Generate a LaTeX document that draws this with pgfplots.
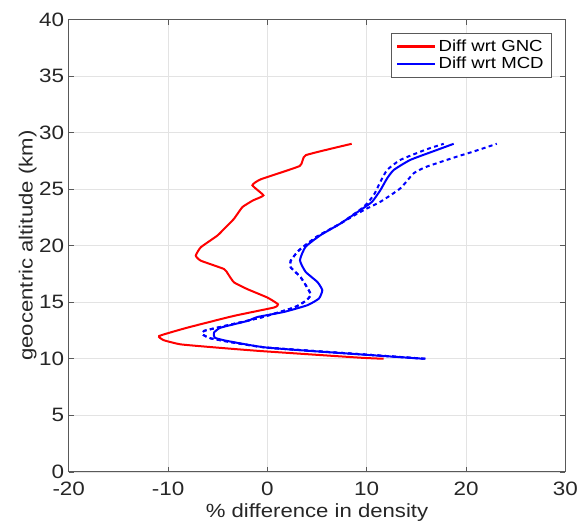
\documentclass[border=0pt]{standalone}
\usepackage{fontspec}
\setmainfont{Liberation Sans}[FakeStretch=1.16]
\usepackage{pgfplots}
\pgfplotsset{compat=1.18}
\begin{document}
\begin{tikzpicture}
\begin{axis}[
  name=ax,
  scale only axis,
  width=372pt, height=339pt,
  xmin=-20, xmax=30, ymin=0, ymax=40,
  xtick={-20,-10,0,10,20,30},
  ytick={0,5,10,15,20,25,30,35,40},
  /pgf/number format/assume math mode=true,
  tick label style={font=\fontsize{14.5}{16}\selectfont, color=black!85},
  label style={font=\fontsize{14.3}{17}\selectfont, color=black!85},
  xlabel={\% difference in density},
  ylabel={geocentric altitude (km)},
  xlabel style={at={(axis description cs:0.5,0)}, anchor=base, yshift=-34pt},
  ylabel style={at={(axis description cs:-0.0726,0.5)}, anchor=base},
  xticklabel style={anchor=base, yshift=-17.5pt},
  grid=major,
  major grid style={gray!22, line width=0.5pt},
  axis line style={gray!70!black, line width=0.6pt},
  tick style={gray!70!black, line width=0.5pt},
  tick align=inside,
  major tick length=4pt,
  legend style={at={(rel axis cs:1,1)}, xshift=-10pt, yshift=-10pt, anchor=north east,
    font=\fontsize{12}{13}\selectfont,
    draw=gray!70!black, line width=0.5pt, inner xsep=4pt, inner ysep=3pt, row sep=-1pt},
  legend cell align=left,
  legend image code/.code={\draw[#1, line width=1.8pt] (0pt,0pt) -- (28pt,0pt);},
]
\addplot[red, line width=1.5pt, smooth, tension=0.25] coordinates {
(11.7,10.0) (9.4,10.09) (-0.67,10.68) (-5.0,10.98) (-8.72,11.27) (-10.4,11.63)
(-10.9,12.01) (-8.05,12.75) (-3.36,13.79) (0.67,14.53) (1.07,14.82) (0,15.41)
(-2.01,16.15) (-3.36,16.75) (-3.96,17.49) (-4.36,17.93) (-6.71,18.67) (-7.21,19.11)
(-6.71,19.85) (-5.03,20.89) (-4.19,21.63) (-3.36,22.37) (-2.52,23.4) (-1.44,24.0)
(-0.40,24.44) (-1.51,25.33) (-0.67,25.86) (3.26,27.04) (3.86,27.99) (8.49,29.0)
};
\addlegendentry{Diff wrt GNC}
\addplot[blue, line width=1.5pt, smooth, tension=0.3] coordinates {
(15.7,10.0) (9.4,10.38) (0,10.98) (-4.03,11.57) (-5.3,11.86) (-5.37,12.31)
(-4.7,12.75) (-2.01,13.34) (-1.0,13.69) (1.68,14.14) (4.02,14.73) (5.19,15.32)
(5.53,16.06) (5.03,16.79) (3.85,17.68) (3.28,18.71) (3.85,19.90) (5.36,20.93)
(7.37,21.96) (9.38,23.15) (10.55,23.88) (11.39,24.92) (12.06,25.95) (12.73,26.69)
(14.4,27.58) (17.09,28.46) (18.76,29.0)
};
\addlegendentry{Diff wrt MCD}
\addplot[blue, line width=1.5pt, dash pattern=on 3pt off 2.5pt, forget plot, smooth, tension=0.3] coordinates {
(15.9,10.0) (9.4,10.4) (0,10.98) (-3.36,11.42) (-5.7,11.8) (-6.54,12.16)
(-6.38,12.46) (-5.03,12.75) (-0.67,13.64) (2.68,14.53) (3.86,15.12) (4.36,15.71)
(3.36,17.19) (2.35,18.08) (2.35,18.67) (3.2,19.6) (5.0,20.8) (7.37,21.96)
(9.72,23.44) (10.72,24.48) (11.39,25.66) (12.06,26.69) (13.4,27.58) (16.0,28.5)
(17.76,29.0)
};
\addplot[blue, line width=1.5pt, dash pattern=on 3pt off 2.5pt, forget plot, smooth, tension=0.3] coordinates {
(15.9,10.0) (9.4,10.4) (0,10.98) (-3.36,11.42) (-5.7,11.8) (-6.54,12.16)
(-6.38,12.46) (-5.03,12.75) (-0.67,13.64) (2.68,14.53) (3.86,15.12) (4.36,15.71)
(3.36,17.19) (2.35,18.08) (2.35,18.67) (3.2,19.6) (5.0,20.8) (7.37,21.96)
(9.0,22.8) (10.05,23.29) (11.39,23.88) (13.4,25.07) (14.74,26.4) (16.08,26.99)
(19.1,27.87) (20.77,28.32) (23.1,29.0)
};
\end{axis}
\pgfresetboundingbox
\path (ax.south west) ++(-51.5pt,-38.5pt);
\path (ax.north east) ++(11pt,14.5pt);
\end{tikzpicture}
\end{document}
